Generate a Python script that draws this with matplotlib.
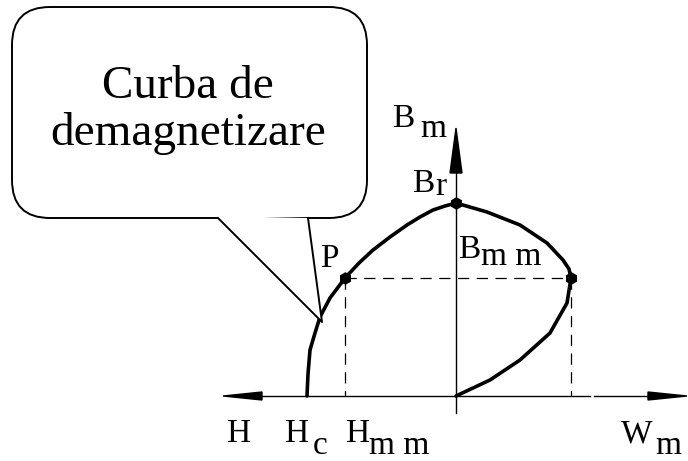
import matplotlib.pyplot as plt
import numpy as np
from matplotlib.patches import FancyBboxPatch, Polygon

# curba de demagnetizare (stanga) si curba energiei W (dreapta), unitati in pixeli fata de origine
h_demag = [-149, -148, -146, -141, -136, -126, -111, -97, -83, -66, -49, -36, -23, -11, 0]
b_demag = [0, 22, 46, 63, 79, 98, 118, 133, 146, 159, 171, 179, 186, 190, 193]
w_curve = [0, 31, 64, 91, 107, 113, 115, 111, 94, 64, 34, 0]
b_curve = [193, 184, 171, 153, 136, 127, 118, 93, 63, 36, 16, 0]

H_c, H_mm, B_r, B_mm, W_mm = -149, -111, 193, 118, 115

fig = plt.figure(figsize=(6.88, 4.61), dpi=100)
ax = fig.add_axes([0, 0, 1, 1])
ax.set_xlim(-456, 232)
ax.set_ylim(-65, 396)
ax.axis('off')

lw_ax = 1.0
# axa orizontala (cu o mica intrerupere)
ax.plot([-194, 134], [0, 0], 'k', lw=lw_ax)
ax.plot([138, 192], [0, 0], 'k', lw=lw_ax)
ax.add_patch(Polygon([[-233, 0], [-194, 4], [-194, -4]], closed=True, color='k'))
ax.add_patch(Polygon([[231, 0], [192, 4], [192, -4]], closed=True, color='k'))
# axa verticala
ax.plot([0, 0], [-17, 223], 'k', lw=lw_ax)
ax.add_patch(Polygon([[0, 268], [-6, 223], [6, 223]], closed=True, color='k'))

# linii punctate
dash = dict(color='k', lw=0.9, ls=(0, (9, 6)))
ax.plot([H_mm, W_mm], [B_mm, B_mm], **dash)
ax.plot([H_mm, H_mm], [B_mm, 0], **dash)
ax.plot([W_mm, W_mm], [B_mm, 0], **dash)

# curbele
ax.plot(h_demag, b_demag, 'k', lw=2.6, solid_capstyle='round', solid_joinstyle='round')
ax.plot(w_curve, b_curve, 'k', lw=2.6, solid_capstyle='round', solid_joinstyle='round')
ax.plot([H_mm, 0, W_mm], [B_mm, B_r, B_mm], 'kh', ms=8, zorder=5)

# balonul
box = FancyBboxPatch((-444, 178), 355, 211, boxstyle='round,pad=0,rounding_size=38',
                     fc='white', ec='k', lw=1.4, zorder=6)
ax.add_patch(box)
tail = [[-238, 178], [-134, 74], [-148, 178]]
ax.add_patch(Polygon(tail + [[-238, 180]], closed=True, fc='white', ec='none', zorder=7))
ax.plot([-238, -134, -148], [178, 74, 178], 'k', lw=1.4, zorder=8)

serif = 'Liberation Serif'
ax.text(-268, 298, 'Curba de', fontsize=34, family=serif, ha='center', va='baseline', zorder=9)
ax.text(-268, 251, 'demagnetizare', fontsize=34, family=serif, ha='center', va='baseline', zorder=9)

lab = dict(fontsize=24, family=serif, va='baseline', ha='left')
ax.text(-229, -46, 'H', **lab)
ax.text(-171, -46, 'H', **lab)
ax.text(-143, -58, 'c', **lab)
ax.text(-110, -46, 'H', **lab)
ax.text(-87, -58, 'm m', **lab)
ax.text(165, -46, 'W', **lab)
ax.text(199, -58, 'm', **lab)
ax.text(-64, 269, 'B', **lab)
ax.text(-36, 259, 'm', **lab)
ax.text(-44, 204, 'B', **lab)
ax.text(-21, 201, 'r', **lab)
ax.text(-136, 129, 'P', **lab)
ax.text(2, 138, 'B', **lab)
ax.text(25, 131, 'm m', **lab)

fig.savefig('out.png', dpi=100)
